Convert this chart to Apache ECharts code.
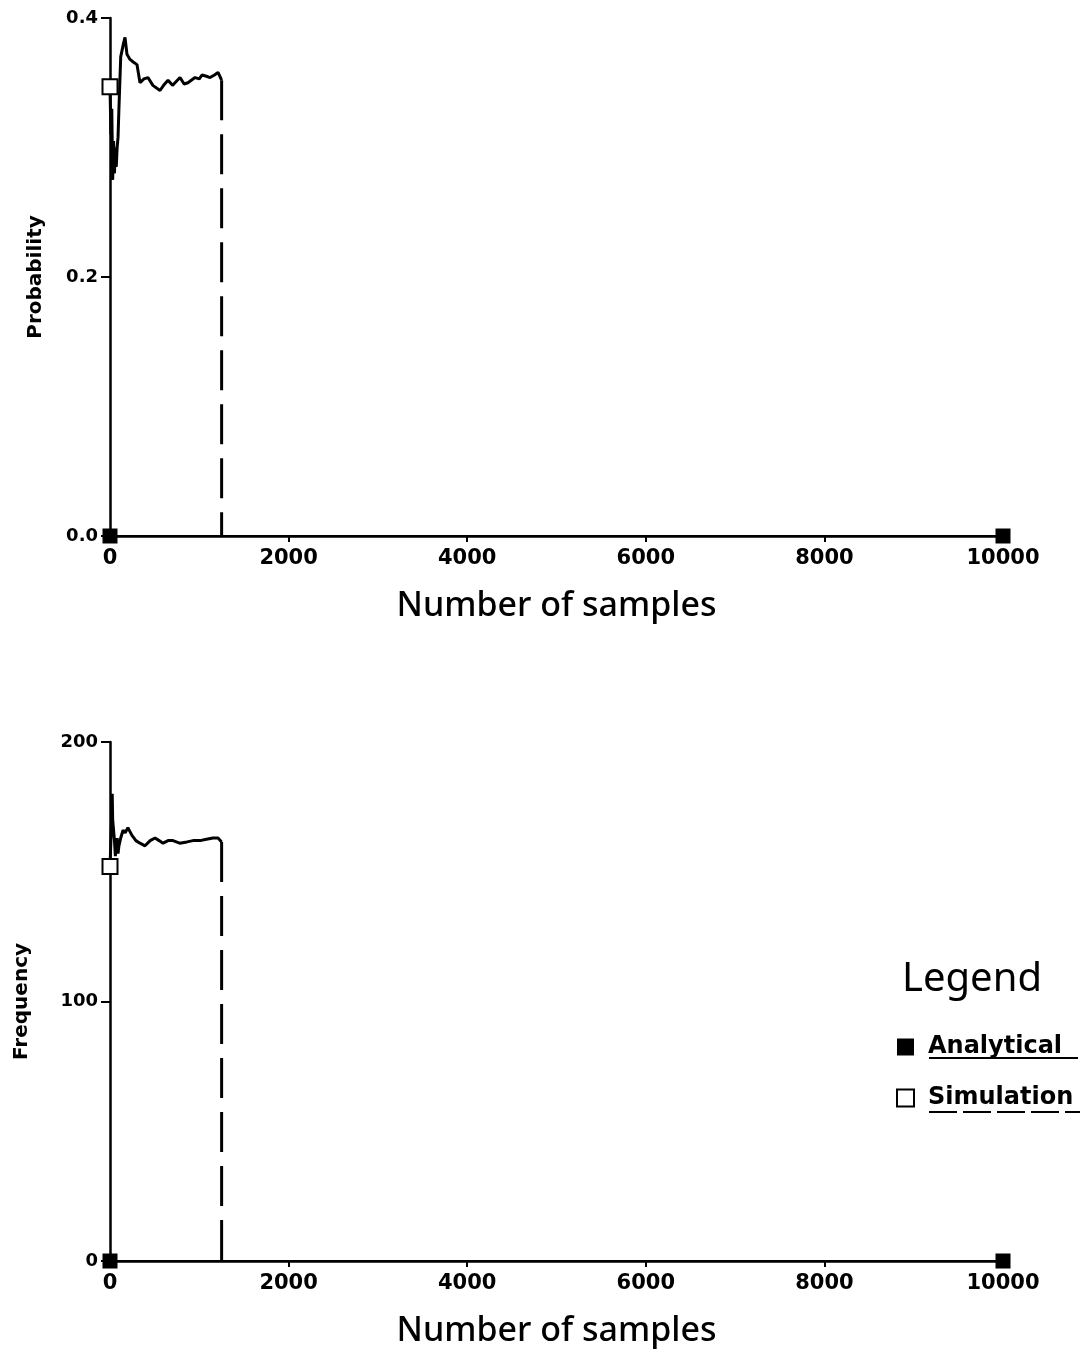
<!DOCTYPE html>
<html>
<head>
<meta charset="utf-8">
<script src="https://cdn.jsdelivr.net/npm/echarts@6/dist/echarts.min.js"></script>
<style>
  html, body { margin: 0; padding: 0; background: #fff; }
  #chart1 { width: 1086px; height: 1353px; }
</style>
</head>
<body>
<div id="chart1"></div>
<script>
// x 轴刻度
var xTicks = [0, 2000, 4000, 6000, 8000, 10000];
var cutoffSample = 1250;

// 解析解 (两端)
var analyticalX = [0, 10000];
var analyticalProb = [0, 0];
var analyticalFreq = [0, 0];

// 上图: 模拟概率
var probX = [0, 10, 20, 30, 40, 50, 60, 70, 80, 90, 100, 120, 150, 168, 190, 224, 260, 302, 336, 380, 425, 480, 560, 600, 650, 700, 728, 784, 830, 873, 952, 1000, 1030, 1080, 1120, 1170, 1210, 1250];
var probY = [0.347, 0.31, 0.33, 0.275, 0.305, 0.28, 0.30, 0.285, 0.30, 0.308, 0.33, 0.37, 0.38, 0.385, 0.372, 0.368, 0.366, 0.364, 0.35, 0.353, 0.354, 0.348, 0.344, 0.348, 0.352, 0.348, 0.35, 0.354, 0.349, 0.35, 0.354, 0.353, 0.356, 0.355, 0.354, 0.356, 0.358, 0.352];

// 下图: 模拟频数
var freqX = [0, 10, 20, 25, 30, 40, 50, 60, 70, 80, 90, 100, 120, 146, 170, 200, 246, 290, 336, 392, 450, 504, 550, 594, 650, 705, 780, 862, 930, 1008, 1080, 1153, 1210, 1250];
var freqY = [152, 162, 172, 180, 170, 166, 162, 156, 160, 163, 157, 160, 163, 166, 165, 167, 164, 162, 161, 160, 162, 163, 162, 161, 162, 162, 161, 161.5, 162, 162, 162.5, 163, 163, 161.5];

var boldFont = 'DejaVu Sans';

function pairs(xs, ys) {
    var arr = [];
    for (var i = 0; i < xs.length; i++) {
        arr.push([xs[i], ys[i]]);
    }
    return arr;
}

function simData(xs, ys) {
    var arr = pairs(xs, ys);
    // 第一个点画空心方块
    arr[0] = { value: arr[0], symbol: 'rect', symbolSize: 15 };
    return arr;
}

function xAxisCfg(idx) {
    return {
        type: 'value',
        gridIndex: idx,
        min: xTicks[0],
        max: xTicks[xTicks.length - 1],
        interval: xTicks[1] - xTicks[0],
        name: 'Number of samples',
        nameLocation: 'middle',
        nameGap: 53,
        nameTextStyle: { fontFamily: 'Noto Sans', fontSize: 34, fontWeight: 500, color: '#000' },
        axisLine: { onZero: false, lineStyle: { color: '#000', width: 2.5 } },
        axisTick: { show: true, length: 6, lineStyle: { color: '#000', width: 2 } },
        axisLabel: {
            margin: 12, fontFamily: boldFont, fontWeight: 'bold', fontSize: 21, color: '#000',
            formatter: function (v) { return String(v); }
        },
        splitLine: { show: false }
    };
}

function yAxisCfg(idx, max, interval, name, gap, fmt) {
    return {
        type: 'value',
        gridIndex: idx,
        min: 0,
        max: max,
        interval: interval,
        name: name,
        nameLocation: 'middle',
        nameGap: gap,
        nameTextStyle: { fontFamily: boldFont, fontWeight: 'bold', fontSize: 20, color: '#000' },
        axisLine: { show: true, lineStyle: { color: '#000', width: 2.5 } },
        axisTick: { show: true, length: 9, lineStyle: { color: '#000', width: 2 } },
        axisLabel: { margin: 12, fontFamily: boldFont, fontWeight: 'bold', fontSize: 18, color: '#000', formatter: fmt },
        splitLine: { show: false }
    };
}

function drawChart() {
    var myChart = echarts.init(document.getElementById('chart1'));

    var option = {
        animation: false,
        backgroundColor: '#fff',
        title: {
            text: 'Legend',
            left: 897,
            top: 955,
            textStyle: { fontFamily: 'Noto Sans', fontSize: 40, fontWeight: 'normal', color: '#000' }
        },
        legend: {
            orient: 'vertical',
            left: 891,
            top: 1030,
            itemGap: 27,
            itemWidth: 17,
            itemHeight: 17,
            textStyle: { fontFamily: boldFont, fontWeight: 'bold', fontSize: 24, color: '#000', padding: [0, 0, 0, 9] },
            data: [
                { name: 'Analytical', icon: 'rect', itemStyle: { color: '#000', borderWidth: 0 } },
                { name: 'Simulation', icon: 'rect', itemStyle: { color: '#fff', borderColor: '#000', borderWidth: 2 } }
            ]
        },
        grid: [
            { left: 110, right: 83, top: 18, height: 518 },
            { left: 110, right: 83, top: 742, height: 519 }
        ],
        xAxis: [xAxisCfg(0), xAxisCfg(1)],
        yAxis: [
            yAxisCfg(0, 0.4, 0.2, 'Probability', 64, function (v) { return v.toFixed(1); }),
            yAxisCfg(1, 200, 100, 'Frequency', 78, null)
        ],
        graphic: [
            { type: 'line', shape: { x1: 929, y1: 1058, x2: 1078, y2: 1058 }, style: { stroke: '#000', lineWidth: 2 } },
            { type: 'line', shape: { x1: 929, y1: 1112, x2: 1080, y2: 1112 }, style: { stroke: '#000', lineWidth: 2, lineDash: [28, 6] } }
        ],
        series: [
            {
                name: 'Analytical',
                type: 'line',
                xAxisIndex: 0,
                yAxisIndex: 0,
                symbol: 'rect',
                symbolSize: 15,
                itemStyle: { color: '#000' },
                lineStyle: { color: '#000', width: 2 },
                data: pairs(analyticalX, analyticalProb)
            },
            {
                name: 'Simulation',
                type: 'line',
                xAxisIndex: 0,
                yAxisIndex: 0,
                symbol: 'none',
                itemStyle: { color: '#fff', borderColor: '#000', borderWidth: 2 },
                lineStyle: { color: '#000', width: 3 },
                data: simData(probX, probY),
                z: 3
            },
            {
                name: 'cutoff1',
                type: 'line',
                xAxisIndex: 0,
                yAxisIndex: 0,
                symbol: 'none',
                lineStyle: { color: '#000', width: 3, type: [40, 14] },
                data: [[cutoffSample, probY[probY.length - 1]], [cutoffSample, 0]]
            },
            {
                name: 'Analytical',
                type: 'line',
                xAxisIndex: 1,
                yAxisIndex: 1,
                symbol: 'rect',
                symbolSize: 15,
                itemStyle: { color: '#000' },
                lineStyle: { color: '#000', width: 2 },
                data: pairs(analyticalX, analyticalFreq)
            },
            {
                name: 'Simulation',
                type: 'line',
                xAxisIndex: 1,
                yAxisIndex: 1,
                symbol: 'none',
                itemStyle: { color: '#fff', borderColor: '#000', borderWidth: 2 },
                lineStyle: { color: '#000', width: 3 },
                data: simData(freqX, freqY),
                z: 3
            },
            {
                name: 'cutoff2',
                type: 'line',
                xAxisIndex: 1,
                yAxisIndex: 1,
                symbol: 'none',
                lineStyle: { color: '#000', width: 3, type: [40, 14] },
                data: [[cutoffSample, freqY[freqY.length - 1]], [cutoffSample, 0]]
            }
        ]
    };
    myChart.setOption(option);
}

drawChart();
</script>
</body>
</html>
